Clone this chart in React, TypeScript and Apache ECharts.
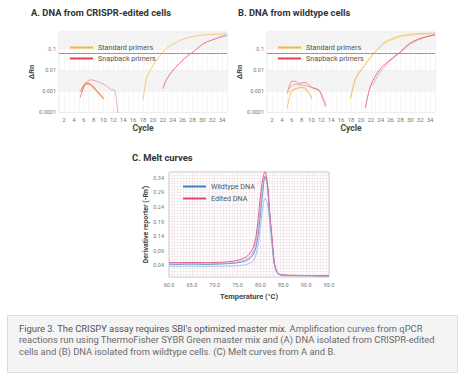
import React, { useEffect, useRef } from "react";
import * as echarts from "echarts";

// ---------- Panel A: DNA from CRISPR-edited cells ----------
const aStdCycles = [18, 18.7, 19.3, 20, 21, 22, 23, 24, 25, 26, 27, 28, 29, 30, 31, 32, 33, 34, 35];
const aStdValues = [0.00037, 0.004, 0.008, 0.016, 0.035, 0.07, 0.12, 0.17, 0.23, 0.29, 0.34, 0.39, 0.43, 0.46, 0.48, 0.5, 0.51, 0.52, 0.53];
const aSnapCycles = [22, 22.7, 23.5, 24.4, 25.4, 26.4, 27.4, 28.4, 29.4, 30.4, 31.4, 32.4, 33.4, 34.4, 35];
const aSnapValues = [0.0013, 0.0033, 0.0065, 0.012, 0.021, 0.036, 0.055, 0.08, 0.13, 0.19, 0.24, 0.29, 0.36, 0.42, 0.44];
const aStdEarly1Cycles = [5.4, 6, 6.5, 7, 7.5, 8, 8.7, 9.3, 10.1];
const aStdEarly1Values = [0.0012, 0.0019, 0.0024, 0.0024, 0.002, 0.0017, 0.001, 0.0006, 0.0004];
const aStdEarly2Cycles = [5.2, 6, 6.7, 7.4, 8.2, 9, 9.7, 10];
const aStdEarly2Values = [0.0009, 0.0016, 0.0021, 0.0019, 0.0013, 0.0008, 0.0005, 0.0004];
const aSnapEarly1Cycles = [5.3, 5.8, 6.4, 7, 7.6, 8.3, 9, 9.6, 10];
const aSnapEarly1Values = [0.0005, 0.0011, 0.0022, 0.0022, 0.0018, 0.0012, 0.0008, 0.0006, 0.00045];
const aSnapEarly2Cycles = [5.3, 6.2, 7, 7.5, 8.5, 9.5, 10.7, 11.4, 12.2, 12.5, 12.9];
const aSnapEarly2Values = [0.0009, 0.0022, 0.0032, 0.0034, 0.003, 0.0024, 0.0017, 0.0012, 0.0011, 0.0006, 0.00009];

// ---------- Panel B: DNA from wildtype cells ----------
const bStd1Cycles = [17.85, 18.85, 19.5, 20.5, 21.5, 22.5, 23.5, 24.5, 25.5, 26.5, 27.5, 28.5, 29.5, 30.5, 31.5, 32.5, 33.5, 34.5, 35];
const bStd1Values = [0.0004, 0.0036, 0.007, 0.0144, 0.03, 0.062, 0.11, 0.19, 0.26, 0.33, 0.4, 0.45, 0.49, 0.52, 0.54, 0.55, 0.56, 0.57, 0.57];
const bStd2Cycles = [18, 18.9, 19.6, 20.6, 21.6, 22.6, 23.6, 24.6, 25.6, 26.6, 27.6, 28.6, 29.6, 30.6, 31.6, 32.6, 33.6, 34.6, 35];
const bStd2Values = [0.0005, 0.0035, 0.0068, 0.014, 0.029, 0.058, 0.1, 0.17, 0.23, 0.29, 0.35, 0.4, 0.44, 0.47, 0.5, 0.52, 0.54, 0.56, 0.57];
const bSnap1Cycles = [20.9, 21.9, 22.9, 23.9, 24.9, 25.9, 26.9, 27.9, 28.9, 29.9, 30.9, 31.9, 32.9, 33.9, 35];
const bSnap1Values = [0.00016, 0.0016, 0.005, 0.011, 0.019, 0.03, 0.047, 0.07, 0.12, 0.19, 0.25, 0.31, 0.37, 0.43, 0.48];
const bSnap2Cycles = [22.3, 23, 24, 25, 26, 27, 28, 29, 30, 31, 32, 33, 34, 35];
const bSnap2Values = [0.0018, 0.0035, 0.0085, 0.016, 0.028, 0.045, 0.07, 0.11, 0.17, 0.23, 0.3, 0.36, 0.42, 0.46];
const bStdEarly1Cycles = [5.1, 5.8, 6.8, 7.5, 8.5, 9.2, 9.8, 10.1];
const bStdEarly1Values = [0.00015, 0.0008, 0.0013, 0.0014, 0.0015, 0.001, 0.0006, 0.00037];
const bStdEarly2Cycles = [5.1, 6, 7, 7.8, 8.5, 9.3, 10];
const bStdEarly2Values = [0.0008, 0.0011, 0.0013, 0.0016, 0.0013, 0.0009, 0.0005];
const bSnapEarly1Cycles = [5.1, 6.1, 6.8, 7.5, 8.2, 8.8, 9.6, 10.5, 11.5, 12.2, 12.8];
const bSnapEarly1Values = [0.0008, 0.003, 0.0028, 0.0023, 0.0025, 0.0025, 0.0018, 0.0013, 0.0011, 0.0005, 0.00017];
const bSnapEarly2Cycles = [5.5, 6.2, 6.8, 7.5, 8.5, 9.5, 10.5, 11.5, 12.5, 13];
const bSnapEarly2Values = [0.0013, 0.0019, 0.0021, 0.002, 0.0019, 0.0016, 0.0014, 0.0011, 0.0004, 0.0002];

const threshold = 0.06;

// ---------- Panel C: Melt curves ----------
const meltTemps = [60, 62, 64, 66, 68, 70, 72, 74, 75, 76, 77, 78, 78.5, 79, 79.5, 80, 80.5, 81, 81.5, 82, 82.5, 83, 83.5, 84, 85, 87, 90, 95];
const editedMain = [0.05, 0.049, 0.05, 0.05, 0.049, 0.05, 0.051, 0.054, 0.057, 0.062, 0.07, 0.088, 0.105, 0.135, 0.2, 0.275, 0.335, 0.362, 0.325, 0.225, 0.14, 0.055, 0.022, 0.011, 0.007, 0.006, 0.005, 0.004];
const editedRep = [0.046, 0.045, 0.046, 0.046, 0.045, 0.046, 0.047, 0.049, 0.051, 0.055, 0.061, 0.075, 0.09, 0.115, 0.17, 0.245, 0.31, 0.34, 0.31, 0.215, 0.13, 0.05, 0.02, 0.01, 0.006, 0.005, 0.005, 0.004];
const wildMain = [0.044, 0.043, 0.044, 0.044, 0.043, 0.044, 0.045, 0.047, 0.049, 0.052, 0.057, 0.068, 0.08, 0.1, 0.145, 0.215, 0.29, 0.345, 0.32, 0.225, 0.135, 0.05, 0.02, 0.01, 0.006, 0.005, 0.005, 0.004];
const wildRep = [0.037, 0.036, 0.037, 0.037, 0.036, 0.037, 0.037, 0.038, 0.039, 0.04, 0.043, 0.05, 0.057, 0.075, 0.11, 0.17, 0.235, 0.27, 0.255, 0.19, 0.11, 0.045, 0.018, 0.009, 0.005, 0.004, 0.004, 0.003];

const captionLead = "Figure 3. The CRISPY assay requires SBI's optimized master mix.";
const captionRest = "Amplification curves from qPCR";
const captionLines = [
  "reactions run using ThermoFisher SYBR Green master mix and (A) DNA isolated from CRISPR-edited",
  "cells and (B) DNA isolated from wildtype cells. (C) Melt curves from A and B.",
];

const FONT = "Roboto, sans-serif";
const STD = "#f6b53d";
const SNAP = "#e3435c";
const BLUE = "#3f7cc7";
const RED = "#e0456a";

const pairs = (xs: number[], ys: number[]) => xs.map((x, i) => [x, ys[i]]);

function ampSeries(name: string, color: string, idx: number, xs: number[], ys: number[], opacity: number, extra: any = {}) {
  return {
    type: "line",
    name,
    xAxisIndex: idx,
    yAxisIndex: idx,
    data: pairs(xs, ys),
    showSymbol: false,
    smooth: 0.3,
    clip: true,
    color,
    lineStyle: { width: 1, color, opacity },
    ...extra,
  };
}

function thresholdLine() {
  return {
    markLine: {
      silent: true,
      symbol: "none",
      label: { show: false },
      lineStyle: { color: "#9a9a9a", width: 1, type: "solid" },
      data: [{ yAxis: threshold }],
    },
  };
}

function cycleAxis(gridIndex: number) {
  return {
    type: "value",
    gridIndex,
    min: 1,
    max: 35,
    interval: 1,
    name: "Cycle",
    nameLocation: "middle",
    nameGap: 11,
    nameTextStyle: { fontFamily: FONT, fontSize: 8.5, fontWeight: "bold", color: "#444" },
    axisLine: { show: false },
    axisTick: { show: false },
    axisLabel: {
      interval: 0,
      fontFamily: FONT,
      fontSize: 6,
      color: "#777",
      margin: 4,
      formatter: (v: number) => (v % 2 === 0 ? String(v) : ""),
    },
    splitLine: { show: true, lineStyle: { color: "#f0f0f0", width: 0.6 } },
  };
}

function rnAxis(gridIndex: number) {
  return {
    type: "log",
    logBase: 10,
    gridIndex,
    min: 0.0001,
    max: 0.65,
    name: "ΔRn",
    nameLocation: "middle",
    nameGap: 17,
    nameTextStyle: { fontFamily: FONT, fontSize: 7.5, fontWeight: "bold", color: "#444" },
    axisLine: { show: false },
    axisTick: { show: false },
    axisLabel: {
      showMaxLabel: false,
      fontFamily: FONT,
      fontSize: 5.5,
      color: "#777",
      margin: 3,
      formatter: (v: number) => String(parseFloat(Number(v).toPrecision(1))),
    },
    splitLine: { show: true, lineStyle: { color: "#ececec", width: 0.6 } },
    splitArea: { show: true, areaStyle: { color: ["#ffffff", "#f4f4f4"] } },
  };
}

function measure(text: string, font: string) {
  const ctx = document.createElement("canvas").getContext("2d");
  if (!ctx) return text.length * 4.5;
  ctx.font = font;
  return ctx.measureText(text).width;
}

export default function App() {
  const ref = useRef<HTMLDivElement>(null);
  useEffect(() => {
    if (!ref.current) return;
    const chart = echarts.init(ref.current, null, { renderer: "svg" });
    const titleStyle = { fontFamily: FONT, fontSize: 9.4, fontWeight: "bold", color: "#333" };
    const legendText = { fontFamily: FONT, fontSize: 7.2, color: "#555" };
    const capFont = "9.4px Roboto";
    const leadW = measure(captionLead + " ", capFont);
    const capStyle = { fontFamily: "Roboto", fontSize: 9.4, fontWeight: "normal", fill: "#6a6a6a", verticalAlign: "middle" };
    chart.setOption({
      animation: false,
      backgroundColor: "#ffffff",
      title: [
        { text: "A. DNA from CRISPR-edited cells", left: 26, top: 3, textStyle: titleStyle },
        { text: "B. DNA from wildtype cells", left: 233, top: 3, textStyle: titleStyle },
        { text: "C. Melt curves", left: 127, top: 148, textStyle: titleStyle },
      ],
      legend: [
        {
          left: 65, top: 39, orient: "vertical", itemWidth: 23, itemHeight: 2, itemGap: 4, icon: "rect",
          data: ["Standard primers", "Snapback primers"], textStyle: legendText, selectedMode: false,
        },
        {
          left: 273, top: 39, orient: "vertical", itemWidth: 23, itemHeight: 2, itemGap: 4, icon: "rect",
          data: ["Standard primers", "Snapback primers"], textStyle: legendText, selectedMode: false,
        },
        {
          left: 178, top: 178, orient: "vertical", itemWidth: 23, itemHeight: 2, itemGap: 5, icon: "rect",
          data: ["Wildtype DNA", "Edited DNA"], textStyle: legendText, selectedMode: false,
        },
      ],
      grid: [
        { left: 59, top: 32, width: 168, height: 80, show: true, borderColor: "#e2e2e2", borderWidth: 1, outerBoundsMode: "none" },
        { left: 267, top: 32, width: 168, height: 80, show: true, borderColor: "#e2e2e2", borderWidth: 1, outerBoundsMode: "none" },
        { left: 169, top: 172, width: 160, height: 105, show: true, borderColor: "#c8c8c8", borderWidth: 1, backgroundColor: "#ffffff", outerBoundsMode: "none" },
      ],
      xAxis: [
        cycleAxis(0),
        cycleAxis(1),
        {
          type: "value",
          gridIndex: 2,
          min: 60,
          max: 95,
          interval: 5,
          name: "Temperature (°C)",
          nameLocation: "middle",
          nameGap: 15,
          nameTextStyle: { fontFamily: FONT, fontSize: 7.5, fontWeight: "bold", color: "#444" },
          axisLine: { show: false },
          axisTick: { show: false },
          axisLabel: { fontFamily: FONT, fontSize: 5.5, color: "#777", margin: 5, formatter: (v: number) => v.toFixed(1) },
          splitLine: { show: true, lineStyle: { color: "#e8d6de", width: 0.6 } },
          minorTick: { show: false, splitNumber: 8 },
          minorSplitLine: { show: true, lineStyle: { color: "#eddfe5", width: 0.5 } },
        },
      ],
      yAxis: [
        rnAxis(0),
        rnAxis(1),
        {
          type: "value",
          gridIndex: 2,
          min: 0,
          max: 0.36,
          interval: 0.01,
          name: "Derivative reporter (-Rn')",
          nameLocation: "middle",
          nameGap: 20,
          nameTextStyle: { fontFamily: FONT, fontSize: 7, fontWeight: "bold", color: "#444" },
          axisLine: { show: false },
          axisTick: { show: false },
          axisLabel: {
            interval: 0,
            fontFamily: FONT,
            fontSize: 5.5,
            color: "#777",
            margin: 5,
            formatter: (v: number) => (Math.round(v * 100) % 5 === 4 ? v.toFixed(2) : ""),
          },
          splitLine: { show: true, lineStyle: { color: "#eddfe5", width: 0.5 } },
        },
      ],
      graphic: [
        { type: "rect", shape: { x: 7.5, y: 315.5, width: 450, height: 57 }, style: { fill: "#f4f4f4", stroke: "#dcdcdc", lineWidth: 1 } },
        { type: "text", x: 19, y: 328, style: { ...capStyle, text: captionLead, fill: "#555555" } },
        { type: "text", x: 19 + leadW, y: 328, style: { ...capStyle, text: captionRest } },
        { type: "text", x: 19, y: 339.5, style: { ...capStyle, text: captionLines[0] } },
        { type: "text", x: 19, y: 351, style: { ...capStyle, text: captionLines[1] } },
      ],
      series: [
        // Panel A
        ampSeries("Standard primers", STD, 0, aStdCycles, aStdValues, 0.7, thresholdLine()),
        ampSeries("Snapback primers", SNAP, 0, aSnapCycles, aSnapValues, 0.75),
        ampSeries("Standard primers", STD, 0, aStdEarly1Cycles, aStdEarly1Values, 0.8),
        ampSeries("Standard primers", STD, 0, aStdEarly2Cycles, aStdEarly2Values, 0.6),
        ampSeries("Snapback primers", SNAP, 0, aSnapEarly1Cycles, aSnapEarly1Values, 0.75),
        ampSeries("Snapback primers", SNAP, 0, aSnapEarly2Cycles, aSnapEarly2Values, 0.45),
        // Panel B
        ampSeries("Standard primers", STD, 1, bStd1Cycles, bStd1Values, 0.7, thresholdLine()),
        ampSeries("Standard primers", STD, 1, bStd2Cycles, bStd2Values, 0.45),
        ampSeries("Snapback primers", SNAP, 1, bSnap1Cycles, bSnap1Values, 0.75),
        ampSeries("Snapback primers", SNAP, 1, bSnap2Cycles, bSnap2Values, 0.4),
        ampSeries("Standard primers", STD, 1, bStdEarly1Cycles, bStdEarly1Values, 0.75),
        ampSeries("Standard primers", STD, 1, bStdEarly2Cycles, bStdEarly2Values, 0.55),
        ampSeries("Snapback primers", SNAP, 1, bSnapEarly1Cycles, bSnapEarly1Values, 0.55),
        ampSeries("Snapback primers", SNAP, 1, bSnapEarly2Cycles, bSnapEarly2Values, 0.45),
        // Panel C
        {
          type: "line", name: "Wildtype DNA", xAxisIndex: 2, yAxisIndex: 2, data: pairs(meltTemps, wildMain),
          showSymbol: false, smooth: 0.3, color: BLUE, lineStyle: { width: 1, color: BLUE, opacity: 0.8 },
        },
        {
          type: "line", name: "Wildtype DNA", xAxisIndex: 2, yAxisIndex: 2, data: pairs(meltTemps, wildRep),
          showSymbol: false, smooth: 0.3, color: "#9fbbe8", lineStyle: { width: 1, color: "#9fbbe8", opacity: 0.9 },
        },
        {
          type: "line", name: "Edited DNA", xAxisIndex: 2, yAxisIndex: 2, data: pairs(meltTemps, editedMain),
          showSymbol: false, smooth: 0.3, color: RED, lineStyle: { width: 1, color: RED, opacity: 0.85 },
        },
        {
          type: "line", name: "Edited DNA", xAxisIndex: 2, yAxisIndex: 2, data: pairs(meltTemps, editedRep),
          showSymbol: false, smooth: 0.3, color: "#b79ad6", lineStyle: { width: 1, color: "#b79ad6", opacity: 0.7 },
        },
      ],
    });
    return () => chart.dispose();
  }, []);
  return <div ref={ref} style={{ position: "fixed", left: 0, top: 0, width: 469, height: 374 }} />;
}
